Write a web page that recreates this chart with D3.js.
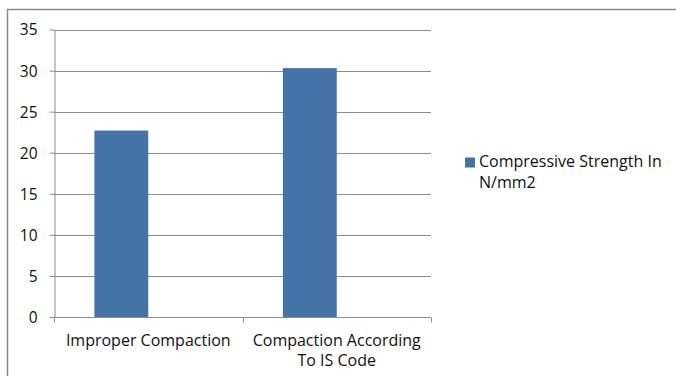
<!DOCTYPE html>
<html><head><meta charset="utf-8">
<script src="https://cdn.jsdelivr.net/npm/d3@7"></script>
<style>body{margin:0;background:#fff}svg{display:block}text{font-family:"Open Sans",sans-serif;fill:#111}</style>
</head><body><svg id="c" width="676" height="376"></svg>
<script>
const categories = ["Improper Compaction", "Compaction According To IS Code"];
const categoryLines = [["Improper Compaction"], ["Compaction According", "To IS Code"]];
const series = ["Compressive Strength In N/mm2", "(empty)"];
const values = [22.7, 30.3];
const seriesNameLines = ["Compressive Strength In", "N/mm2"];
const yTicks = [0, 5, 10, 15, 20, 25, 30, 35];

const svg = d3.select("#c");
svg.append("path").attr("d","M7.5,380 V9.5 H680").attr("fill","none").attr("stroke","#8a8a8a").attr("stroke-width",1.5);

const x = d3.scaleBand().domain(categories).range([54, 431]).paddingInner(0).paddingOuter(0);
// clustered sub-band (second series slot is empty, as in the original)
const xs = d3.scaleBand().domain(series).range([0, x.bandwidth()]).paddingInner(0).paddingOuter(0.75);
const y = d3.scaleLinear().domain([0, 35]).range([317, 29.5]);

svg.append("g").selectAll("line").data(yTicks.slice(1)).join("line")
  .attr("x1",54).attr("x2",431).attr("y1",d=>Math.round(y(d))+0.5).attr("y2",d=>Math.round(y(d))+0.5)
  .attr("stroke","#8c8c8c").attr("stroke-width",1);

svg.append("g").selectAll("rect").data(values).join("rect")
  .attr("x",(d,i)=>x(categories[i])+xs(series[0]))
  .attr("width",xs.bandwidth())
  .attr("y",d=>y(d)).attr("height",d=>y(0)-y(d))
  .attr("fill","#4572a7");

const yAxis = d3.axisLeft(y).tickValues(yTicks).tickSize(5).tickPadding(12).tickSizeOuter(0);
const gy = svg.append("g").attr("transform","translate(54.5,0)").call(yAxis);
gy.selectAll("line").attr("stroke","#8c8c8c");
gy.select(".domain").attr("stroke","#8c8c8c");
gy.selectAll("text").attr("font-size","15.5px").attr("font-family","Open Sans").attr("fill","#111").attr("dy","0.35em");

const gx = svg.append("g").attr("transform","translate(0,317.5)");
gx.append("line").attr("x1",54).attr("x2",431).attr("stroke","#8c8c8c");
const edges = [x.range()[0], ...categories.map(c=>x(c)+x.bandwidth())];
gx.selectAll("line.t").data(edges).join("line").attr("class","t")
  .attr("x1",d=>Math.round(d)+0.5).attr("x2",d=>Math.round(d)+0.5).attr("y1",0).attr("y2",5).attr("stroke","#8c8c8c");
categoryLines.forEach((lines,i)=>{
  const cx = x(categories[i])+x.bandwidth()/2;
  const t = gx.append("text").attr("text-anchor","middle").attr("font-size","16px");
  lines.forEach((l,j)=>t.append("tspan").attr("x",cx).attr("y",28+j*20).text(l));
});

svg.append("rect").attr("x",465).attr("y",157.5).attr("width",10).attr("height",10).attr("fill","#4572a7");
const lt = svg.append("text").attr("font-size","16px");
seriesNameLines.forEach((s,j)=>lt.append("tspan").attr("x",479).attr("y",167+j*21).text(s));
</script></body></html>
